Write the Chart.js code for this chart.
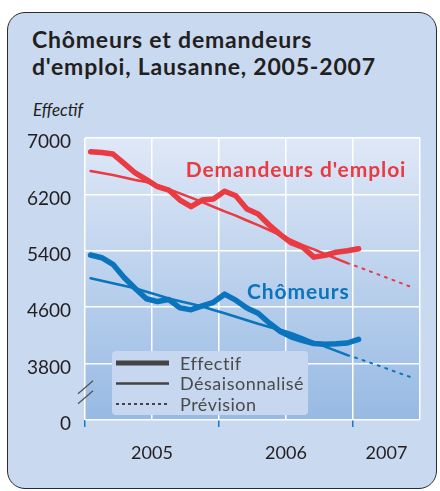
<!DOCTYPE html>
<html>
<head>
<meta charset="utf-8">
<script src="https://cdn.jsdelivr.net/npm/chart.js@4"></script>
<style>
body { margin: 0; background: #fff; }
#wrap { position: relative; width: 440px; height: 491px; }
#panel { position: absolute; left: 7px; top: 12px; width: 430px; height: 477px; box-sizing: border-box;
  background: #c9d9f0; border: 1.5px solid #2b2b2b; border-radius: 18px; }
#title { position: absolute; left: 32px; top: 26px; font: bold 23px Lato, sans-serif; letter-spacing: 0.8px;
  line-height: 27px; color: #231f20; }
#unit { position: absolute; left: 33px; top: 99px; font: italic 17px Lato, sans-serif; color: #231f20; }
canvas { position: absolute; left: 0; top: 0; }
</style>
</head>
<body>
<div id="wrap">
  <div id="panel"></div>
  <div id="title">Chômeurs et demandeurs<br>d'emploi, Lausanne, 2005-2007</div>
  <div id="unit">Effectif</div>
  <canvas id="chart" width="440" height="491"></canvas>
</div>
<script>
// mois observés (janv. 2005 - janv. 2007)
const mois = ['2005-01','2005-02','2005-03','2005-04','2005-05','2005-06','2005-07','2005-08','2005-09','2005-10','2005-11','2005-12',
              '2006-01','2006-02','2006-03','2006-04','2006-05','2006-06','2006-07','2006-08','2006-09','2006-10','2006-11','2006-12','2007-01'];
const moisDes = mois.slice(0, 24);
const moisPrev = ['2006-12','2007-01','2007-02','2007-03','2007-04','2007-05','2007-06'];

const demandeursEffectif = [6806, 6795, 6773, 6640, 6504, 6410, 6309, 6262, 6120, 6026, 6120, 6135,
                            6245, 6180, 5993, 5922, 5766, 5630, 5510, 5450, 5310, 5335, 5380, 5400, 5430];
const demandeursDes = [6532, 6505, 6475, 6440, 6405, 6375, 6330, 6275, 6215, 6155, 6090, 6025,
                       5960, 5900, 5830, 5765, 5695, 5620, 5550, 5480, 5420, 5355, 5290, 5225];
const demandeursPrev = [5225, 5170, 5110, 5050, 4990, 4930, 4870];

const chomeursEffectif = [5340, 5302, 5208, 5020, 4865, 4720, 4680, 4710, 4590, 4565, 4620, 4670,
                          4785, 4700, 4590, 4515, 4375, 4255, 4175, 4125, 4085, 4075, 4080, 4092, 4145];
const chomeursDes = [5010, 4975, 4940, 4905, 4868, 4820, 4773, 4723, 4685, 4650, 4610, 4560,
                     4515, 4465, 4415, 4365, 4320, 4280, 4230, 4170, 4105, 4040, 3980, 3920];
const chomeursPrev = [3920, 3870, 3815, 3760, 3700, 3645, 3590];

const annees = ['2005', '2006', '2007'];
const yTicks = [3000, 3800, 4600, 5400, 6200, 7000];   // 3000 = axe coupé, affiché "0"

const RED = '#ea3a42', BLUE = '#0a74bd';
const X_MAX = 30;

// position en mois depuis janv. 2005 (milieu du mois)
function toX(m) {
  const [y, mo] = m.split('-').map(Number);
  return (y - 2005) * 12 + (mo - 1) + 0.5;
}
const pts = (ms, vals) => ms.map((m, i) => ({ x: toX(m), y: vals[i] }));

const yearLabelPos = annees.map((a, i) => (i * 12 + Math.min((i + 1) * 12, X_MAX)) / 2);
const xTickValues = [0, 6, 12, 18, 24, 30].concat(yearLabelPos.filter(v => v % 6 !== 0)).sort((a, b) => a - b);

const decor = {
  id: 'decor',
  beforeDraw(chart) {
    const { ctx, chartArea: a } = chart;
    const g = ctx.createLinearGradient(0, a.top, 0, a.bottom);
    g.addColorStop(0, '#dfe8f7');
    g.addColorStop(1, '#97bae3');
    ctx.save();
    ctx.fillStyle = g;
    ctx.fillRect(a.left, a.top, a.right - a.left, a.bottom - a.top);
    ctx.restore();
  },
  afterDatasetsDraw(chart) {
    const { ctx, scales: { x, y } } = chart;
    ctx.save();
    // noms des séries
    ctx.font = 'bold 21px Lato, sans-serif';
    ctx.letterSpacing = '0.9px';
    ctx.textAlign = 'center';
    ctx.textBaseline = 'middle';
    ctx.fillStyle = RED;
    ctx.fillText("Demandeurs d'emploi", x.getPixelForValue(18.9), y.getPixelForValue(6546));
    ctx.fillStyle = BLUE;
    ctx.fillText('Chômeurs', x.getPixelForValue(19.1), y.getPixelForValue(4816));

    // légende
    const lx = 112, ly = 351, lw = 196, lh = 64;
    ctx.fillStyle = '#c6d7ef';
    ctx.beginPath();
    ctx.roundRect(lx, ly, lw, lh, 4);
    ctx.fill();
    const items = [['Effectif', 5, []], ['Désaisonnalisé', 2.5, []], ['Prévision', 2, [3, 3]]];
    ctx.font = '18px Lato, sans-serif';
    ctx.letterSpacing = '0.5px';
    ctx.textAlign = 'left';
    items.forEach((it, i) => {
      const yy = ly + 12 + i * 20.5;
      ctx.strokeStyle = '#444';
      ctx.lineWidth = it[1];
      ctx.setLineDash(it[2]);
      ctx.beginPath();
      ctx.moveTo(lx + 4, yy);
      ctx.lineTo(lx + 57, yy);
      ctx.stroke();
      ctx.setLineDash([]);
      ctx.fillStyle = '#4a4a4a';
      ctx.fillText(it[0], lx + 68, yy + 1);
    });
    ctx.restore();
  },
  afterDraw(chart) {
    const { ctx, chartArea: a, scales: { y } } = chart;
    // marque d'axe coupé
    const yb = (y.getPixelForValue(3000) + y.getPixelForValue(3800)) / 2;
    ctx.save();
    ctx.strokeStyle = '#555';
    ctx.lineWidth = 1.3;
    [-5, 5].forEach(d => {
      ctx.beginPath();
      ctx.moveTo(a.left - 7, yb + d + 7);
      ctx.lineTo(a.left + 8, yb + d - 6);
      ctx.stroke();
    });
    ctx.restore();
  }
};

new Chart(document.getElementById('chart'), {
  type: 'line',
  data: {
    datasets: [
      { data: pts(mois, demandeursEffectif), borderColor: RED, borderWidth: 5.5 },
      { data: pts(moisDes, demandeursDes), borderColor: RED, borderWidth: 2.5 },
      { data: pts(moisPrev, demandeursPrev), borderColor: RED, borderWidth: 2, borderDash: [2, 6] },
      { data: pts(mois, chomeursEffectif), borderColor: BLUE, borderWidth: 5.5 },
      { data: pts(moisDes, chomeursDes), borderColor: BLUE, borderWidth: 2.5 },
      { data: pts(moisPrev, chomeursPrev), borderColor: BLUE, borderWidth: 2, borderDash: [2, 6] }
    ]
  },
  options: {
    responsive: false,
    animation: false,
    layout: { padding: { top: 138, right: 20, left: 0, bottom: 0 } },
    elements: {
      point: { radius: 0 },
      line: { tension: 0, fill: false, borderJoinStyle: 'round', borderCapStyle: 'round' }
    },
    plugins: { legend: { display: false }, tooltip: { enabled: false } },
    scales: {
      x: {
        type: 'linear',
        min: 0,
        max: X_MAX,
        afterFit: s => { s.height = 71; },
        afterBuildTicks: s => { s.ticks = xTickValues.map(v => ({ value: v })); },
        border: { display: false },
        grid: {
          color: c => yearLabelPos.includes(c.tick.value) && c.tick.value % 6 !== 0 ? 'transparent' : '#ffffff',
          lineWidth: 1.5,
          drawTicks: true,
          tickLength: 7,
          tickColor: c => c.tick.value % 12 === 0 && c.tick.value < X_MAX ? '#1a7ac4' : 'transparent',
          tickWidth: 1.5
        },
        ticks: {
          autoSkip: false,
          maxRotation: 0,
          padding: 15,
          color: '#231f20',
          font: { family: 'Lato', size: 18 },
          callback: v => {
            const i = yearLabelPos.indexOf(v);
            return i >= 0 ? annees[i] : '';
          }
        }
      },
      y: {
        min: 3000,
        max: 7000,
        afterFit: s => { s.width = 85; },
        afterBuildTicks: s => { s.ticks = yTicks.map(v => ({ value: v })); },
        border: { display: false },
        grid: { color: '#ffffff', lineWidth: 1.5, drawTicks: false },
        ticks: {
          padding: 14,
          labelOffset: 4,
          color: '#231f20',
          font: { family: 'Lato', size: 19 },
          callback: v => v === 3000 ? '0' : String(v)
        }
      }
    }
  },
  plugins: [decor]
});
</script>
</body>
</html>
